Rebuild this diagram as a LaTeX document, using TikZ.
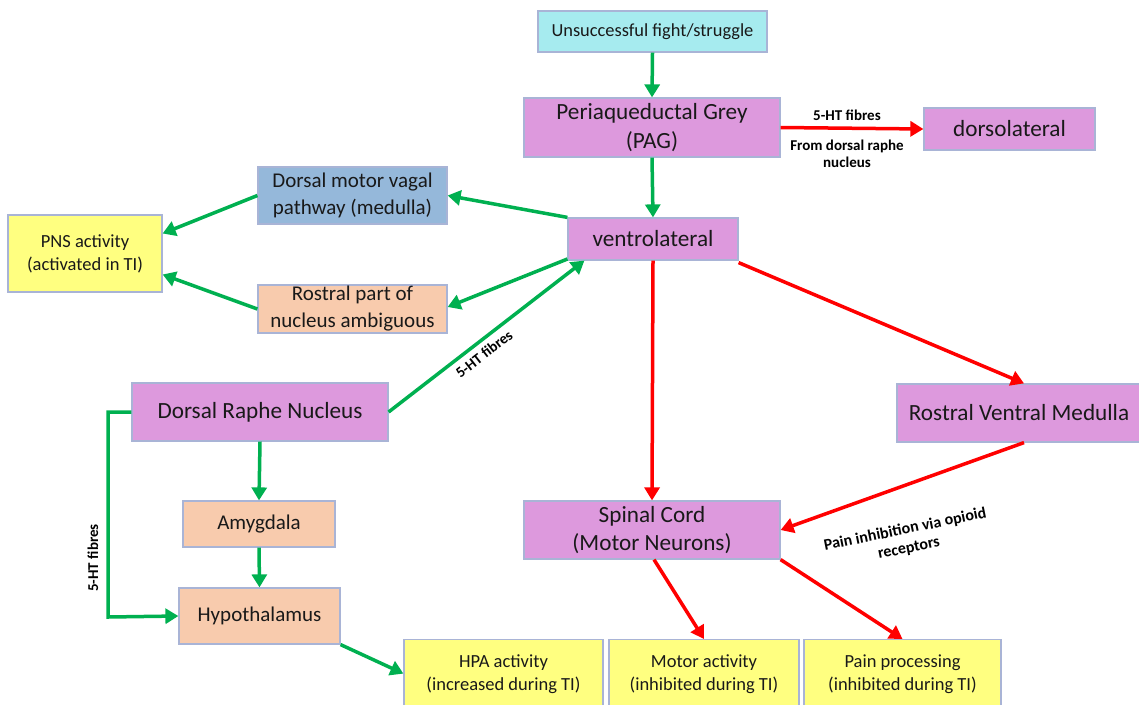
\documentclass[tikz,border=0pt]{standalone}
\usepackage{fontspec}
\setmainfont{Carlito}
\usetikzlibrary{arrows.meta}
\definecolor{gA}{HTML}{00B050}
\definecolor{rA}{HTML}{FF0000}
\definecolor{bord}{HTML}{A9B4D6}
\definecolor{pinkF}{HTML}{DD99DD}
\definecolor{cyanF}{HTML}{A6EBEF}
\definecolor{blueF}{HTML}{95B8DA}
\definecolor{orgF}{HTML}{F8CBAD}
\definecolor{yelF}{HTML}{FFFF80}
\tikzset{
  box/.style={draw=bord, line width=1.2pt, inner sep=0pt, align=center, text=black!90},
  pinkbox/.style={box, fill=pinkF, font=\fontsize{23.2}{28.5}\selectfont},
  cyanbox/.style={box, fill=cyanF, font=\fontsize{18.4}{22}\selectfont},
  bluebox/.style={box, fill=blueF, font=\fontsize{21}{27}\selectfont},
  orgbox/.style={box, fill=orgF, font=\fontsize{21}{27}\selectfont},
  yelbox/.style={box, fill=yelF, font=\fontsize{18.5}{23}\selectfont},
  garr/.style={draw=gA, line width=3.5pt, -{Triangle[length=13pt,width=15pt]}},
  rarr/.style={draw=rA, line width=3.5pt, -{Triangle[length=13pt,width=15pt]}},
  lbl/.style={font=\bfseries\fontsize{15}{16.5}\selectfont, align=center, inner sep=0pt}
}
\begin{document}
\begin{tikzpicture}[x=1pt,y=-1pt]
\useasboundingbox (0,0) rectangle (1139,704);
\clip (0,0) rectangle (1139,704);
% nodes
\node[cyanbox, minimum width=229pt, minimum height=41pt] (uns) at (652.5,31.5) {Unsuccessful fight/struggle};
\node[pinkbox, minimum width=256pt, minimum height=59pt] (pag) at (652,127.5) {Periaqueductal Grey\\(PAG)};
\node[pinkbox, minimum width=171pt, minimum height=42pt] (dl) at (1009.5,129) {dorsolateral};
\node[bluebox, minimum width=189pt, minimum height=57pt] (dmv) at (352.5,195.5) {Dorsal motor vagal\\pathway (medulla)};
\node[yelbox, minimum width=154pt, minimum height=77pt] (pns) at (85,253.5) {PNS activity\\(activated in TI)};
\node[pinkbox, minimum width=170pt, minimum height=42pt] (vl) at (653,239) {ventrolateral};
\node[orgbox, minimum width=189pt, minimum height=48pt] (rpa) at (352.5,309) {Rostral part of\\nucleus ambiguous};
\node[pinkbox, minimum width=256pt, minimum height=58pt] (drn) at (260,412) {Dorsal Raphe Nucleus};
\node[pinkbox, minimum width=244pt, minimum height=58pt] (rvm) at (1019,413) {Rostral Ventral Medulla};
\node[orgbox, minimum width=152pt, minimum height=46pt] (amy) at (259,524) {Amygdala};
\node[pinkbox, minimum width=256pt, minimum height=58pt] (sc) at (652,530) {Spinal Cord\\(Motor Neurons)};
\node[orgbox, minimum width=161pt, minimum height=56pt] (hyp) at (259.5,616) {Hypothalamus};
\node[yelbox, minimum width=199pt, minimum height=70pt, anchor=north] (hpa) at (503.5,639) {HPA activity\\(increased during TI)};
\node[yelbox, minimum width=190pt, minimum height=70pt, anchor=north] (mot) at (704,639) {Motor activity\\(inhibited during TI)};
\node[yelbox, minimum width=197pt, minimum height=70pt, anchor=north] (pain) at (902.5,639) {Pain processing\\(inhibited during TI)};
% helper coordinates
\coordinate (drnL) at (108,412);
\coordinate (hypL) at (108,617);
% connectors
\draw[garr] (uns.south) -- (pag.north);
\draw[garr] (pag.south) -- (vl.north);
\draw[rarr] (pag.east) -- (dl.west);
\node[lbl] (l1) at (847,115) {5-HT fibres};
\node[lbl] (l2) at (847,154) {From dorsal raphe\\nucleus};
\draw[garr] (vl.north west) -- (dmv.east);
\draw[garr] (dmv.west) -- ([yshift=20pt]pns.east);
\draw[garr] ([yshift=-20pt]vl.west) -- ([yshift=2pt]rpa.east);
\draw[garr] (rpa.west) -- ([yshift=-21pt]pns.east);
\draw[garr] (drn.east) -- ([xshift=17pt]vl.south west);
\node[lbl, rotate=38] (l3) at (484,354) {5-HT fibres};
\draw[rarr] (vl.south) -- (sc.north);
\draw[rarr] ([yshift=-2pt]vl.south east) -- ([xshift=5pt]rvm.north);
\draw[rarr] ([xshift=5pt]rvm.south) -- (sc.east);
\node[lbl, rotate=11.5, font=\bfseries\fontsize{16}{19}\selectfont] (l4) at (907,539) {Pain inhibition via opioid\\receptors};
\draw[garr] (drn.south) -- (amy.north);
\draw[garr] (amy.south) -- (hyp.north);
\draw[garr] (drn.west) -- (drnL) -- (hypL) -- (hyp.west);
\node[lbl, rotate=90] (l5) at (93,558) {5-HT fibres};
\draw[garr] (hyp.south east) -- ([yshift=1pt]hpa.west);
\draw[rarr] ([xshift=2pt]sc.south) -- (mot.north);
\draw[rarr] (sc.south east) -- (pain.north);
\end{tikzpicture}
\end{document}
